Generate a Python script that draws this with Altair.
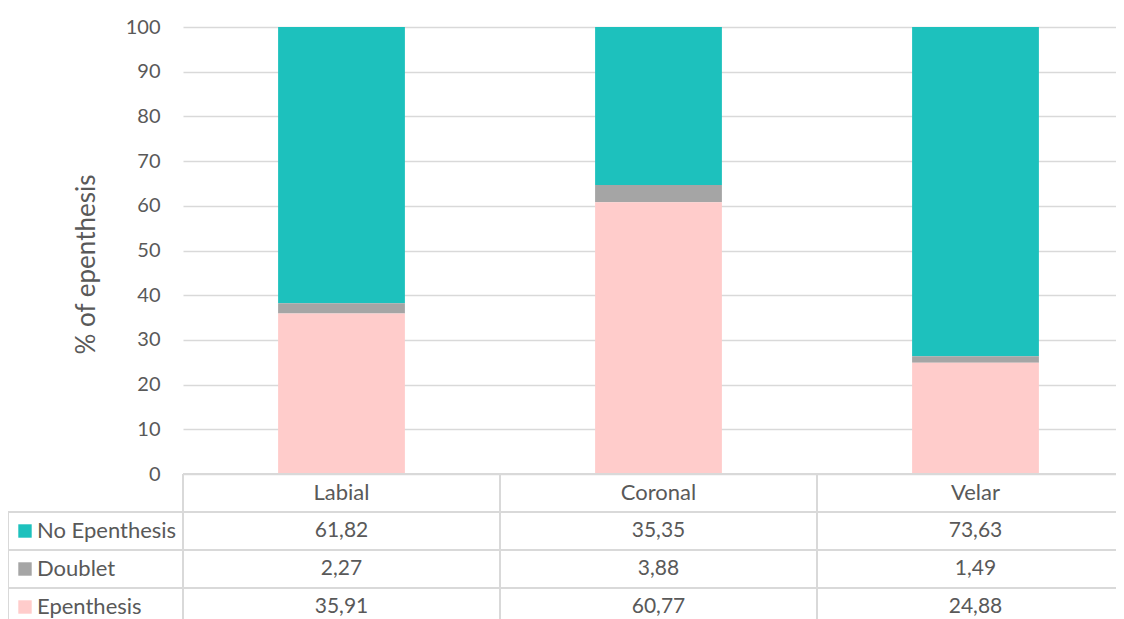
import altair as alt
import pandas as pd

categories = ["Labial", "Coronal", "Velar"]
series = ["No Epenthesis", "Doublet", "Epenthesis"]
no_epenthesis = [61.82, 35.35, 73.63]
doublet = [2.27, 3.88, 1.49]
epenthesis = [35.91, 60.77, 24.88]
colors = ["#1DC1BD", "#A5A5A5", "#FFCCCB"]
y_ticks = [0, 10, 20, 30, 40, 50, 60, 70, 80, 90, 100]

values = {"No Epenthesis": no_epenthesis, "Doublet": doublet, "Epenthesis": epenthesis}

rows = []
for si, s in enumerate(series):
    for ci, c in enumerate(categories):
        v = values[s][ci]
        rows.append({
            "cat": c, "series": s, "value": v,
            "stack": len(series) - 1 - si,
            "row": si + 1.5,
            "label": f"{v:.2f}".replace(".", ","),
        })
df = pd.DataFrame(rows)

legend_df = pd.DataFrame({"series": series, "row": [i + 1.5 for i in range(len(series))]})
header_df = pd.DataFrame({"cat": categories, "row": [0.5] * len(categories)})
vlines_df = pd.DataFrame({"cat": categories, "y0": [0] * len(categories), "y1": [len(series) + 1] * len(categories)})
hlines_df = pd.DataFrame({"b": list(range(1, len(series) + 2))})
left_df = pd.DataFrame({"y0": [1], "y1": [len(series) + 1]})

W, H = 933, 447
XR = 951
ROW_H = 38
TABLE_H = ROW_H * (len(series) + 1)
FONT = "Lato"
TXT = "#595959"
LINE = "#D9D9D9"

x_scale = alt.Scale(domain=categories, range=[0, XR], paddingInner=0, paddingOuter=0)
x_enc = alt.X("cat:N", sort=categories, axis=None, scale=x_scale)
ty_scale = alt.Scale(domain=[0, len(series) + 1], range=[H, H + TABLE_H], nice=False, zero=False)

bars = alt.Chart(df).mark_bar(width=alt.RelativeBandSize(0.4)).encode(
    x=x_enc,
    y=alt.Y(
        "value:Q", stack="zero",
        scale=alt.Scale(domain=[0, 100], nice=False),
        axis=alt.Axis(
            values=y_ticks, title="% of epenthesis", grid=True, gridColor=LINE, gridWidth=1.5,
            domain=False, ticks=False, labelFont=FONT, labelFontSize=20, labelColor=TXT,
            labelPadding=23, titleFont=FONT, titleFontSize=26, titleColor=TXT,
            titleFontWeight="normal", titleX=-97, titleY=237, titleAngle=270,
            titleAlign="center", titleBaseline="middle",
        ),
    ),
    color=alt.Color("series:N", scale=alt.Scale(domain=series, range=colors), legend=None),
    order=alt.Order("stack:Q"),
)

ty = lambda f: alt.Y(f, scale=ty_scale, axis=None)

top_line = alt.Chart(pd.DataFrame({"b": [0]})).mark_rule(color=LINE, strokeWidth=2).encode(
    x=alt.value(0), x2=alt.value(XR), y=ty("b:Q"))
h_lines = alt.Chart(hlines_df).mark_rule(color=LINE, strokeWidth=2).encode(
    x=alt.value(-175), x2=alt.value(XR), y=ty("b:Q"))
v_lines = alt.Chart(vlines_df).mark_rule(color=LINE, strokeWidth=2).encode(
    x=alt.X("cat:N", sort=categories, axis=None, scale=x_scale, bandPosition=0),
    y=ty("y0:Q"), y2="y1:Q")
left_line = alt.Chart(left_df).mark_rule(color=LINE, strokeWidth=2).encode(
    x=alt.value(-175), y=ty("y0:Q"), y2="y1:Q")

header = alt.Chart(header_df).mark_text(font=FONT, fontSize=22, color=TXT, baseline="middle").encode(
    x=x_enc, y=ty("row:Q"), text="cat:N")
cells = alt.Chart(df).mark_text(font=FONT, fontSize=21, color=TXT, baseline="middle").encode(
    x=x_enc, y=ty("row:Q"), text="label:N")
swatches = alt.Chart(legend_df).mark_square(size=180, opacity=1).encode(
    x=alt.value(-158), y=ty("row:Q"),
    color=alt.Color("series:N", scale=alt.Scale(domain=series, range=colors), legend=None))
leg_labels = alt.Chart(legend_df).mark_text(font=FONT, fontSize=22, color=TXT, align="left", baseline="middle").encode(
    x=alt.value(-146), y=ty("row:Q"), text="series:N")

table = alt.layer(top_line, h_lines, v_lines, left_line, header, cells, swatches, leg_labels)

chart = alt.layer(bars, table).resolve_scale(y="independent").properties(
    width=W, height=H,
    padding={"left": 175, "top": 19, "right": 0, "bottom": 145},
    autosize=alt.AutoSizeParams(type="none"),
    background="white",
).configure_view(stroke=None)

chart.save("out.html", embed_options={"renderer": "svg", "actions": False})
